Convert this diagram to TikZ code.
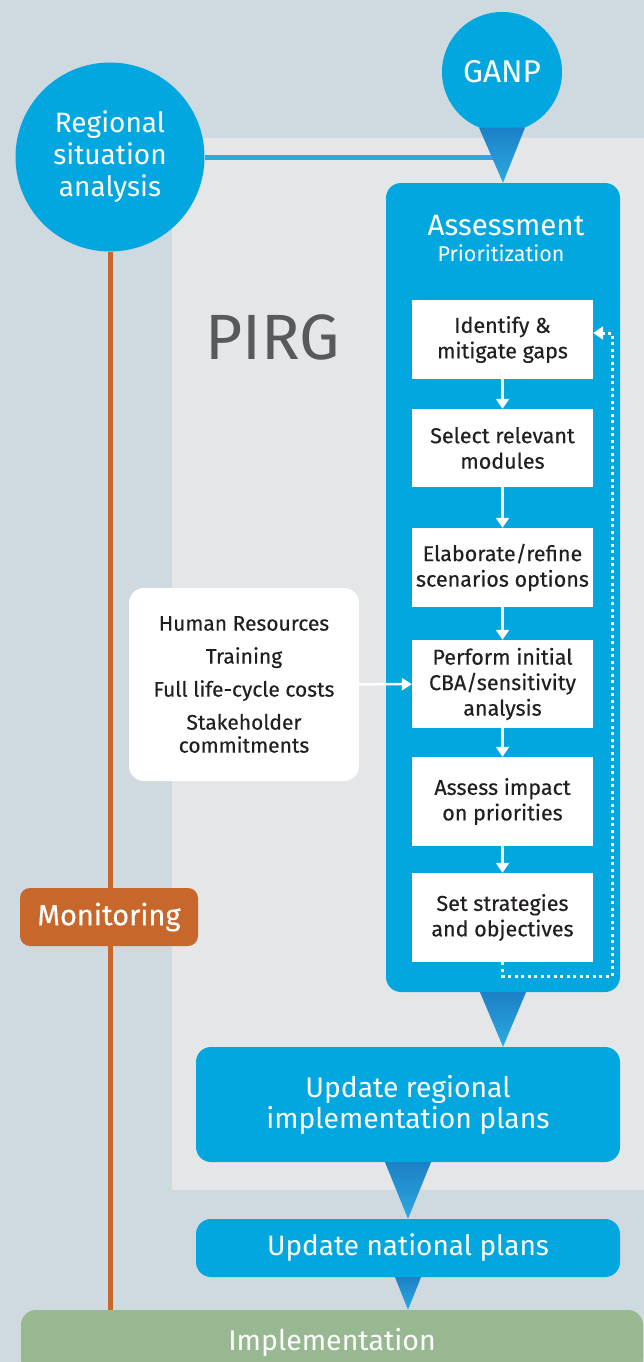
\documentclass[tikz,border=0pt]{standalone}
\usepackage{fontspec}
\setmainfont{Fira Sans}
\newfontfamily\medium[FakeBold=0.35]{Fira Sans}
\usetikzlibrary{arrows.meta}
\definecolor{outerbg}{HTML}{CFD9E0}
\definecolor{innerbg}{HTML}{E4E6E8}
\definecolor{skyblue}{HTML}{02A7E0}
\definecolor{linkblue}{HTML}{2BAAE2}
\definecolor{deepblue}{HTML}{1C80C6}
\definecolor{rust}{HTML}{C8672C}
\definecolor{sage}{HTML}{98B892}
\definecolor{ink}{HTML}{231F20}
\definecolor{slate}{HTML}{58595B}
\begin{document}
\begin{tikzpicture}[x=1pt, y=-1pt,
    disc/.style = {circle, fill=skyblue, text=white, align=center, inner sep=0pt},
    panel/.style = {rectangle, rounded corners=15pt, fill=skyblue, text=white, align=center, inner sep=0pt},
    stepbox/.style = {rectangle, fill=white, text=ink, align=center, inner sep=0pt,
        minimum width=181pt, font=\medium\fontsize{21.5}{25.5}\selectfont},
    flow/.style = {white, line width=3pt, -{Triangle[width=13pt, length=10pt]}},
    pointer/.style = {top color=deepblue, bottom color=linkblue}]
    % Backgrounds
    \clip (0,0) rectangle (644,1362);
    \fill[outerbg] (0,0) rectangle (644,1362);
    \fill[innerbg] (172,138) rectangle (644,1190);

    % Nodes with manual coordinates
    \node[disc, minimum size=189pt, font=\fontsize{28}{32}\selectfont] (reg) at (110,157) {Regional\\situation\\analysis};
    \node[disc, minimum size=120pt, font=\fontsize{31.5}{34}\selectfont] (ganp) at (502,72) {GANP};
    \node[panel, minimum width=234pt, minimum height=809pt] (assess) at (503,587.5) {};
    \node[text=white, anchor=base, font=\fontsize{29.5}{32}\selectfont] (title) at (506,235) {Assessment};
    \node[text=white, anchor=base, font=\fontsize{21.5}{24}\selectfont] (subtitle) at (501,261) {Prioritization};
    \node[text=slate, font=\fontsize{64}{70}\selectfont] (pirg) at (273,337) {PIRG};

    \node[stepbox, minimum height=79pt] (s1) at (502.5,339.5) {Identify \&\\mitigate gaps};
    \node[stepbox, minimum height=78pt] (s2) at (502.5,448) {Select relevant\\modules};
    \node[stepbox, minimum height=79pt] (s3) at (502.5,567.5) {Elaborate/refine\\scenarios options};
    \node[stepbox, minimum height=88pt] (s4) at (502.5,684) {Perform initial\\CBA/sensitivity\\analysis};
    \node[stepbox, minimum height=89pt] (s5) at (502.5,801.5) {Assess impact\\on priorities};
    \node[stepbox, minimum height=89pt] (s6) at (502.5,917.5) {Set strategies\\and objectives};

    \node[rectangle, rounded corners=15pt, fill=white, text=ink, align=center, inner sep=0pt,
        minimum width=230pt, minimum height=193pt, font=\medium\fontsize{21}{23}\selectfont] (res) at (244,684.5)
        {Human Resources\\[10pt]Training\\[10pt]Full life-cycle costs\\[10pt]Stakeholder\\commitments};

    \node[panel, minimum width=424pt, minimum height=115pt, font=\fontsize{28.3}{31}\selectfont] (upreg) at (408,1104.5)
        {Update regional\\implementation plans};
    \node[panel, minimum width=424pt, minimum height=58pt, font=\fontsize{28}{31}\selectfont] (upnat) at (408,1248)
        {Update national plans};
    \node[rectangle, rounded corners=15pt, fill=sage, text=white, inner sep=0pt,
        minimum width=622pt, minimum height=64pt, font=\fontsize{28.5}{31}\selectfont] (impl) at (332,1342)
        {Implementation};

    % Edges
    \draw[rust, line width=5pt] (reg.south) -- (reg.south |- impl.north);
    \node[rectangle, rounded corners=10pt, fill=rust, text=white, inner sep=0pt,
        minimum width=178pt, minimum height=58pt, font=\medium\fontsize{29}{30}\selectfont] (mon) at (109,917) {Monitoring};
    \draw[linkblue, line width=5pt] (reg.east) -- (reg.east -| ganp.south);
    \shade[pointer] ([xshift=-23pt, yshift=4.6pt]ganp.south) -- ([xshift=23pt, yshift=4.6pt]ganp.south) -- (assess.north) -- cycle;
    \shade[pointer] ([xshift=-23pt]assess.south) -- ([xshift=23pt]assess.south) -- (assess.south |- upreg.north) -- cycle;
    \shade[pointer] ([xshift=-23pt]upreg.south) -- ([xshift=23pt]upreg.south) -- (upnat.north) -- cycle;
    \shade[pointer] ([xshift=-13pt]upnat.south) -- ([xshift=13pt]upnat.south) -- (upnat.south |- impl.north) -- cycle;

    \draw[flow] (s1) -- (s2);
    \draw[flow] (s2) -- (s3);
    \draw[flow] (s3) -- (s4);
    \draw[flow] (s4) -- (s5);
    \draw[flow] (s5) -- (s6);
    \draw[white, line width=2.5pt, -{Triangle[width=12pt, length=10pt]}] (res) -- (s4);
    \coordinate (loop) at (612,976);
    \draw[flow, dash pattern=on 3pt off 3.5pt] (s6.south) |- (loop) |- ([yshift=6.5pt]s1.east);
\end{tikzpicture}
\end{document}
